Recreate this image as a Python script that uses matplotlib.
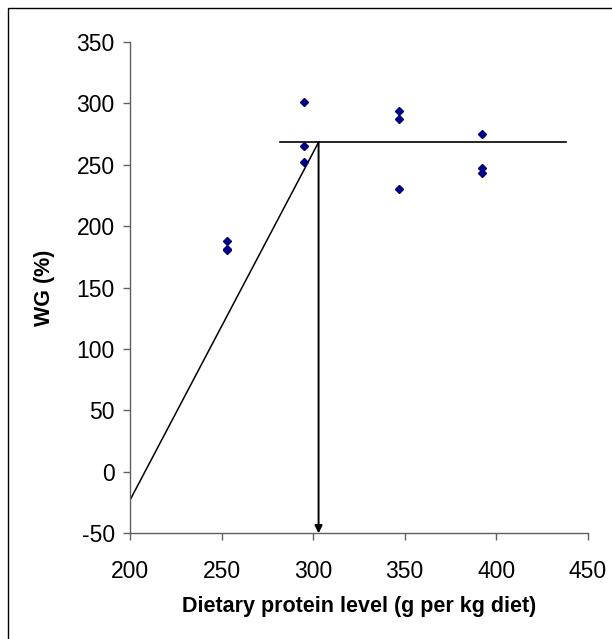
import matplotlib
matplotlib.use('Agg')
import matplotlib.pyplot as plt
from matplotlib.patches import Rectangle

plt.rcParams['font.family'] = ['Liberation Sans', 'DejaVu Sans']

# Observed weight gain per dietary protein level
protein = [253, 253, 253, 295, 295, 295, 347, 347, 347, 392, 392, 392]
wg = [188, 181.5, 180.5, 301, 265.5, 252.5, 294, 287, 230.5, 275, 247, 243]

# Broken-line model
break_x = 303
plateau = 268.4
slope_start = (200, -23)
plateau_range = (282, 438)

x_ticks = [200, 250, 300, 350, 400, 450]
y_ticks = [-50, 0, 50, 100, 150, 200, 250, 300, 350]

fig = plt.figure(figsize=(6.12, 6.39), dpi=100)
ax = fig.add_axes([0.2124, 0.1654, 0.7479, 0.7689])

ax.plot(protein, wg, linestyle='none', marker='D', markersize=4.2,
        color='#000080', zorder=3)

ax.plot([slope_start[0], break_x], [slope_start[1], plateau], color='black', lw=1.1)
ax.plot(plateau_range, [plateau, plateau], color='black', lw=1.2)
ax.annotate('', xy=(break_x, -50), xytext=(break_x, plateau),
            arrowprops=dict(arrowstyle='-|>', color='black', lw=1.4,
                            mutation_scale=11, shrinkA=0, shrinkB=0))

ax.set_xlim(200, 450)
ax.set_ylim(-50, 350)
ax.set_xticks(x_ticks)
ax.set_yticks(y_ticks)
ax.set_xticklabels([str(v) for v in x_ticks])
ax.set_yticklabels([str(v) for v in y_ticks])

for side in ['top', 'right']:
    ax.spines[side].set_visible(False)
for side in ['left', 'bottom']:
    ax.spines[side].set_color('#606060')
    ax.spines[side].set_linewidth(1.0)

ax.tick_params(axis='both', direction='out', length=5, width=1.0,
               color='#606060', labelsize=16.5)
ax.tick_params(axis='y', pad=6)
ax.tick_params(axis='x', pad=14)

ax.set_xlabel('Dietary protein level (g per kg diet)', fontsize=15.5, fontweight='bold',
              va='center')
ax.set_ylabel('WG (%)', fontsize=15.5, fontweight='bold', va='center', ha='center')
ax.xaxis.set_label_coords(0.5, -0.149)
ax.yaxis.set_label_coords(-0.186, 0.5)

# outer chart border
fig.patches.append(Rectangle((8 / 612, -0.02), 1.0, 1.02 - 8 / 639,
                             transform=fig.transFigure, fill=False,
                             edgecolor='black', lw=1.0))

fig.savefig('out.png', dpi=100)
